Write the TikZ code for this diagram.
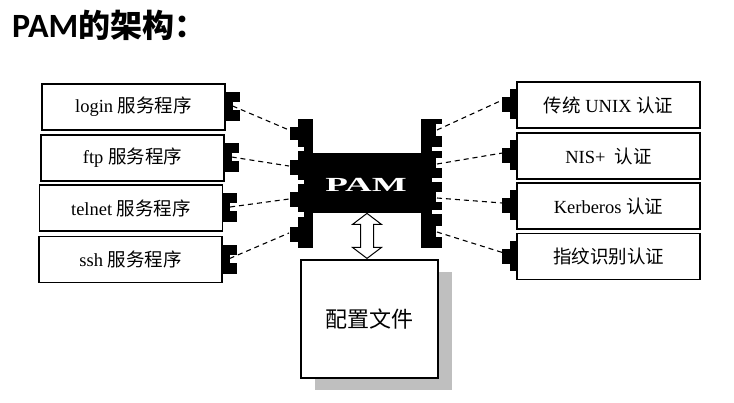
\documentclass[tikz,border=0pt]{standalone}
\usepackage{fontspec}
\setmainfont{Liberation Serif}
\newfontfamily\cjk{Noto Sans CJK SC}
\newfontfamily\titlefont{Carlito}
\newcommand\zh[1]{{\cjk #1}}
\usetikzlibrary{positioning,shadows}

\begin{document}
\begin{tikzpicture}[x=1pt, y=-1pt,
    svcbox/.style={draw, line width=1.2pt, minimum width=183pt, minimum height=46pt, inner sep=0pt, font=\fontsize{18.5}{20}\selectfont},
    link/.style={line width=1.1pt, dash pattern=on 5pt off 4pt}]
        \useasboundingbox (0,0) rectangle (734,402);
        \node[anchor=base west, inner sep=0pt] (title) at (12,37) {\fontsize{34}{36}\selectfont\titlefont\bfseries PAM{\fontsize{32}{34}\selectfont\cjk\bfseries 的架构：}};

        % service programs
        \node[svcbox] (login) at (133.5,107) {login \zh{服务程序}};
        \node[svcbox] (ftp) at (132.5,158) {ftp \zh{服务程序}};
        \node[svcbox] (telnet) at (131,208) {telnet \zh{服务程序}};
        \node[svcbox] (ssh) at (130.5,259.5) {ssh \zh{服务程序}};

        \fill (login.east) ++(0,-15) rectangle ++(14,29);
        \fill (ftp.east) ++(0,-15) rectangle ++(14,29);
        \fill (telnet.east) ++(0,-15) rectangle ++(14,29);
        \fill (ssh.east) ++(0,-15) rectangle ++(14,29);
        \fill[white] (login.east) ++(7,-5) rectangle ++(7,8);
        \fill[white] (ftp.east) ++(7,-5) rectangle ++(7,8);
        \fill[white] (telnet.east) ++(7,-5) rectangle ++(7,8);
        \fill[white] (ssh.east) ++(7,-5) rectangle ++(7,8);
        \path (login.east) ++(7,-1) coordinate (loginport);
        \path (ftp.east) ++(7,-1) coordinate (ftpport);
        \path (telnet.east) ++(7,-1) coordinate (telnetport);
        \path (ssh.east) ++(7,-1) coordinate (sshport);

        % authentication modules
        \node[svcbox] (unix) at (608.5,105) {\zh{传统} UNIX \zh{认证}};
        \node[svcbox] (nis) at (608.5,156) {NIS+\ \ \zh{认证}};
        \node[svcbox] (krb) at (608.5,206) {Kerberos \zh{认证}};
        \node[svcbox] (finger) at (608.5,256.5) {\zh{指纹识别认证}};

        \fill (unix.west) ++(-6,-16) rectangle ++(6,30);
        \fill (nis.west) ++(-6,-16) rectangle ++(6,30);
        \fill (krb.west) ++(-6,-16) rectangle ++(6,30);
        \fill (finger.west) ++(-6,-16) rectangle ++(6,30);
        \fill (unix.west) ++(-14,-8) rectangle ++(8,15);
        \fill (nis.west) ++(-14,-8) rectangle ++(8,15);
        \fill (krb.west) ++(-14,-8) rectangle ++(8,15);
        \fill (finger.west) ++(-14,-8) rectangle ++(8,15);
        \path (unix.west) ++(-14,-5) coordinate (unixport);
        \path (nis.west) ++(-14,-3) coordinate (nisport);
        \path (krb.west) ++(-14,-3) coordinate (krbport);
        \path (finger.west) ++(-14,-4) coordinate (fingerport);

        % PAM chip
        \fill (298,119) rectangle (313,248);
        \fill (290,127) rectangle (298,140);
        \fill (290,160) rectangle (298,175);
        \fill (290,192) rectangle (298,207);
        \fill (290,227) rectangle (298,242);
        \fill[white] (298,147) rectangle (304,151);
        \fill[white] (298,180) rectangle (304,184);
        \fill[white] (298,212) rectangle (304,217);
        \fill (313,153) rectangle (421,213);
        \fill (421,119) rectangle (442,248);
        \fill[white] (432,147) rectangle (442,151);
        \fill[white] (432,178) rectangle (442,182);
        \fill[white] (432,210) rectangle (442,214);
        \fill[white] (436,124) rectangle (442,136);
        \fill[white] (436,158) rectangle (442,168);
        \fill[white] (436,192) rectangle (442,202);
        \fill[white] (436,226) rectangle (442,237);
        \node[text=white, font=\fontsize{20}{20}\selectfont\bfseries] (pam) at (366,185) {\scalebox{1.85}[1]{PAM}};
        \coordinate (pamin1) at (289,130);
        \coordinate (pamin2) at (289,166);
        \coordinate (pamin3) at (289,199);
        \coordinate (pamin4) at (289,233);
        \coordinate (pamout1) at (437,130);
        \coordinate (pamout2) at (437,164);
        \coordinate (pamout3) at (437,198);
        \coordinate (pamout4) at (437,232);

        \draw[link] (loginport) -- (pamin1);
        \draw[link] (ftpport) -- (pamin2);
        \draw[link] (telnetport) -- (pamin3);
        \draw[link] (sshport) -- (pamin4);
        \draw[link] (pamout1) -- (unixport);
        \draw[link] (pamout2) -- (nisport);
        \draw[link] (pamout3) -- (krbport);
        \draw[link] (pamout4) -- (fingerport);

        % config file
        \node[draw, line width=1.2pt, fill=white, minimum width=137pt, minimum height=118pt,
              drop shadow={shadow xshift=14pt, shadow yshift=-12pt, fill=black!25, opacity=1},
              font=\fontsize{22}{24}\selectfont] (cfg) at (369.5,319) {\zh{配置文件}};
        \draw[fill=white, line width=1pt] (cfg.north) ++(-2.5,-1) -- ++(-14.5,-11) -- ++(8,0) -- ++(0,-23) -- ++(-8,0)
            -- ++(14.5,-11) -- ++(14.5,11) -- ++(-8,0) -- ++(0,23) -- ++(8,0) -- cycle;
\end{tikzpicture}
\end{document}
